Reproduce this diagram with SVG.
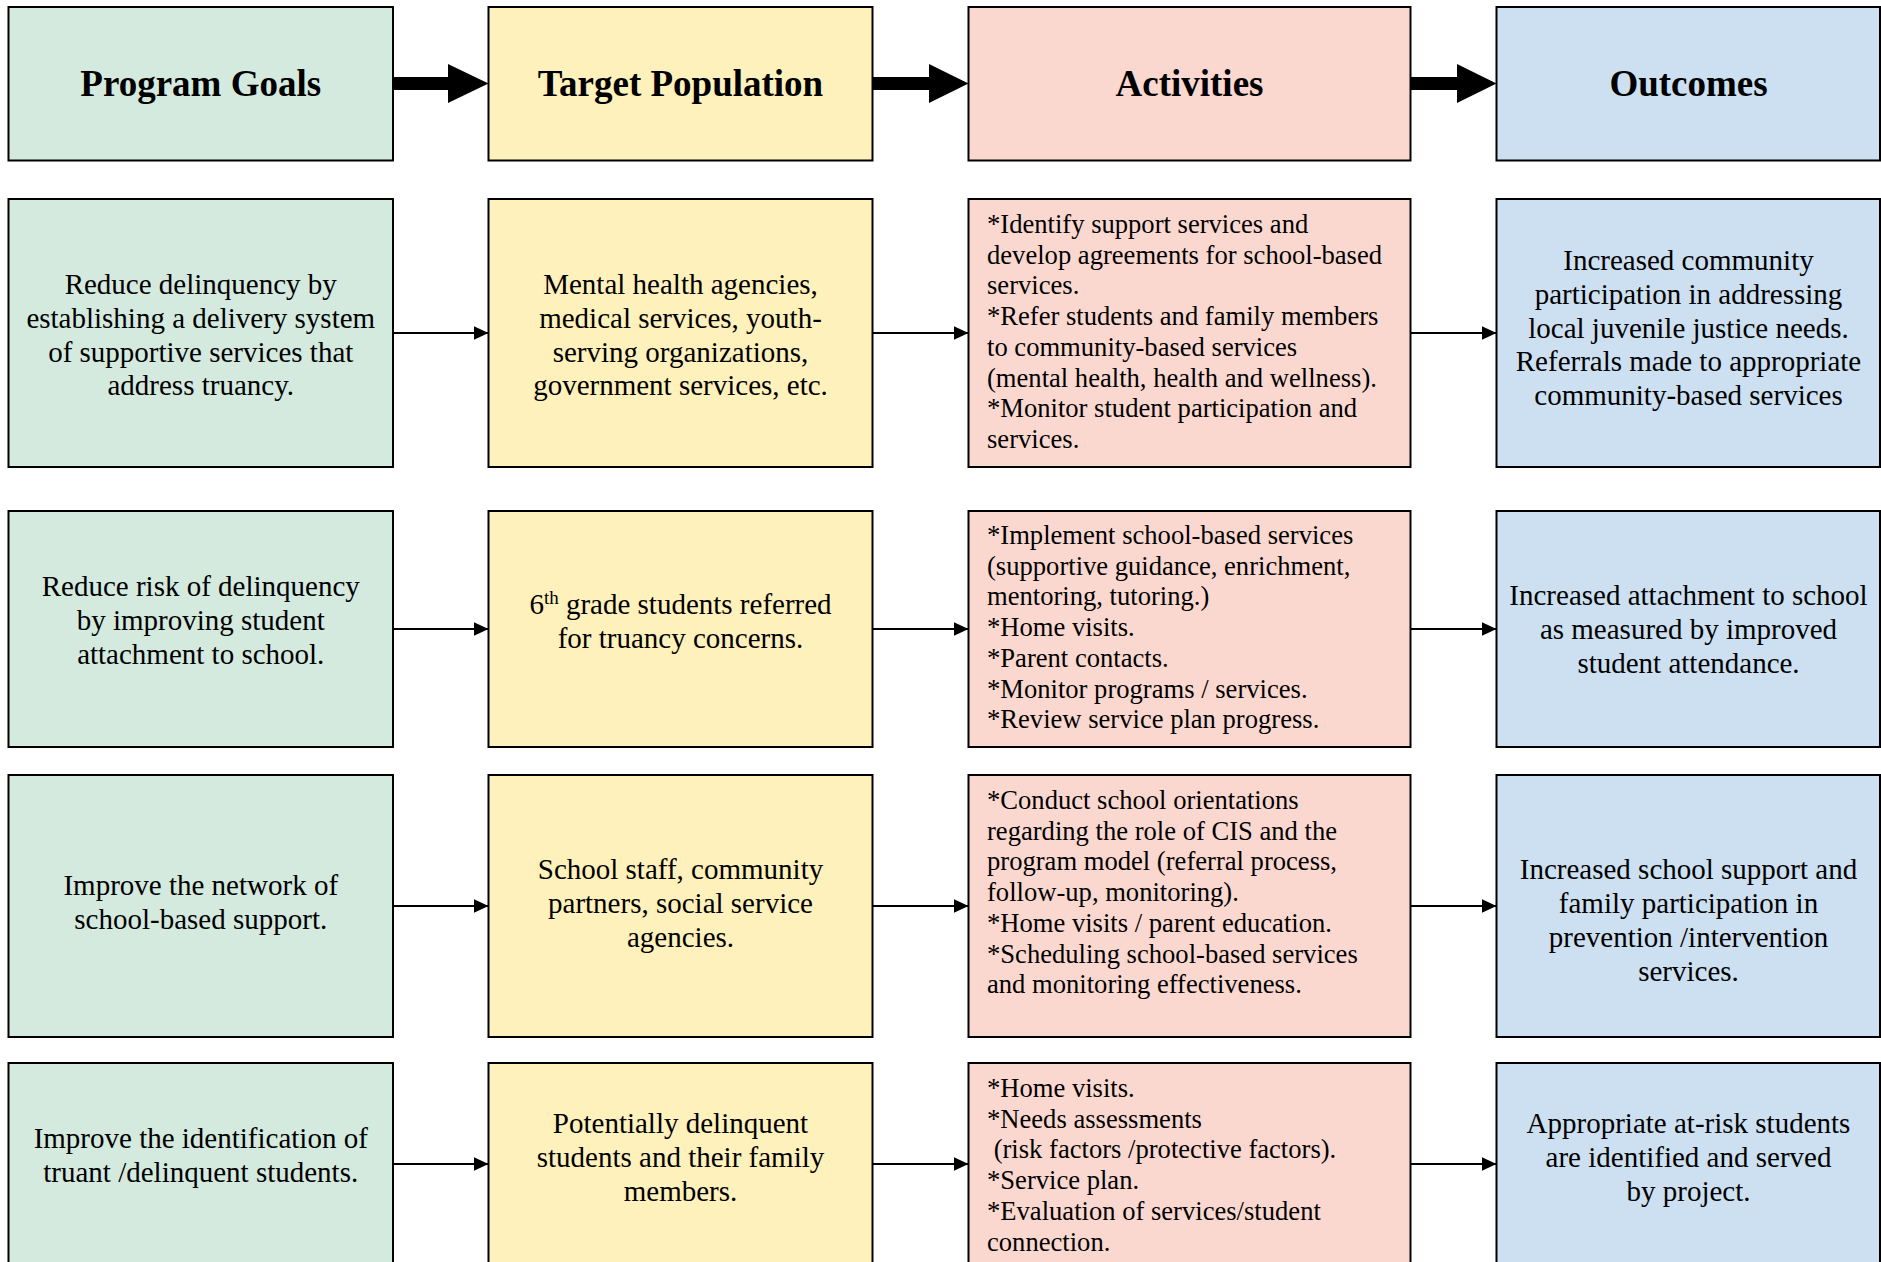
<svg xmlns="http://www.w3.org/2000/svg" width="1881" height="1262" viewBox="0 0 1881 1262">
<style>
.box{stroke:#000;stroke-width:2}
.c1{fill:#d4eadf}.c2{fill:#fff1bb}.c3{fill:#fbd8cf}.c4{fill:#cde0f1}
text{font-family:"Liberation Serif","Times New Roman",serif;fill:#000}
.hdr{font-size:37px;font-weight:bold;text-anchor:middle}
.mid{font-size:29px;text-anchor:middle}
.act{font-size:26.6px}
.conn{stroke:#000;stroke-width:2;fill:none}
.thick{fill:#000}
</style>
<defs>
<marker id="ah" markerUnits="userSpaceOnUse" markerWidth="15" markerHeight="14" viewBox="0 0 15 14" refX="15" refY="7" orient="auto">
<path d="M0,0 L15,7 L0,14 z" fill="#000"/>
</marker>
</defs>

<g id="hdr-goals"><rect class="box c1" x="8.5" y="7" width="384.5" height="153.5"/><text class="hdr" x="200.75" y="96">Program Goals</text></g>
<g id="hdr-target"><rect class="box c2" x="488.5" y="7" width="384" height="153.5"/><text class="hdr" x="680.5" y="96">Target Population</text></g>
<g id="hdr-activities"><rect class="box c3" x="968.5" y="7" width="442" height="153.5"/><text class="hdr" x="1189.5" y="96">Activities</text></g>
<g id="hdr-outcomes"><rect class="box c4" x="1496.5" y="7" width="383.5" height="153.5"/><text class="hdr" x="1688.5" y="96">Outcomes</text></g>

<g id="goal1"><rect class="box c1" x="8.5" y="199" width="384.5" height="268"/>
<text class="mid"><tspan x="200.75" y="294">Reduce delinquency by</tspan><tspan x="200.75" y="328">establishing a delivery system</tspan><tspan x="200.75" y="362">of supportive services that</tspan><tspan x="200.75" y="395">address truancy.</tspan></text></g>
<g id="target1"><rect class="box c2" x="488.5" y="199" width="384" height="268"/>
<text class="mid"><tspan x="680.5" y="294">Mental health agencies,</tspan><tspan x="680.5" y="328">medical services, youth-</tspan><tspan x="680.5" y="362">serving organizations,</tspan><tspan x="680.5" y="395">government services, etc.</tspan></text></g>
<g id="act1"><rect class="box c3" x="968.5" y="199" width="442" height="268"/>
<text class="act"><tspan x="987" y="233">*Identify support services and</tspan><tspan x="987" y="263.7">develop agreements for school-based</tspan><tspan x="987" y="294.4">services.</tspan><tspan x="987" y="325.1">*Refer students and family members</tspan><tspan x="987" y="355.8">to community-based services</tspan><tspan x="987" y="386.5">(mental health, health and wellness).</tspan><tspan x="987" y="417.2">*Monitor student participation and</tspan><tspan x="987" y="447.9">services.</tspan></text></g>
<g id="out1"><rect class="box c4" x="1496.5" y="199" width="383.5" height="268"/>
<text class="mid"><tspan x="1688.5" y="270">Increased community</tspan><tspan x="1688.5" y="304">participation in addressing</tspan><tspan x="1688.5" y="338">local juvenile justice needs.</tspan><tspan x="1688.5" y="371">Referrals made to appropriate</tspan><tspan x="1688.5" y="405">community-based services</tspan></text></g>

<g id="goal2"><rect class="box c1" x="8.5" y="511" width="384.5" height="236"/>
<text class="mid"><tspan x="200.75" y="596">Reduce risk of delinquency</tspan><tspan x="200.75" y="630">by improving student</tspan><tspan x="200.75" y="664">attachment to school.</tspan></text></g>
<g id="target2"><rect class="box c2" x="488.5" y="511" width="384" height="236"/>
<text class="mid"><tspan x="680.5" y="614">6<tspan font-size="19" baseline-shift="super">th</tspan> grade students referred</tspan><tspan x="680.5" y="648">for truancy concerns.</tspan></text></g>
<g id="act2"><rect class="box c3" x="968.5" y="511" width="442" height="236"/>
<text class="act"><tspan x="987" y="544">*Implement school-based services</tspan><tspan x="987" y="574.7">(supportive guidance, enrichment,</tspan><tspan x="987" y="605.4">mentoring, tutoring.)</tspan><tspan x="987" y="636.1">*Home visits.</tspan><tspan x="987" y="666.8">*Parent contacts.</tspan><tspan x="987" y="697.5">*Monitor programs / services.</tspan><tspan x="987" y="728.2">*Review service plan progress.</tspan></text></g>
<g id="out2"><rect class="box c4" x="1496.5" y="511" width="383.5" height="236"/>
<text class="mid"><tspan x="1688.5" y="605">Increased attachment to school</tspan><tspan x="1688.5" y="639">as measured by improved</tspan><tspan x="1688.5" y="673">student attendance.</tspan></text></g>

<g id="goal3"><rect class="box c1" x="8.5" y="775" width="384.5" height="262"/>
<text class="mid"><tspan x="200.75" y="895">Improve the network of</tspan><tspan x="200.75" y="929">school-based support.</tspan></text></g>
<g id="target3"><rect class="box c2" x="488.5" y="775" width="384" height="262"/>
<text class="mid"><tspan x="680.5" y="879">School staff, community</tspan><tspan x="680.5" y="913">partners, social service</tspan><tspan x="680.5" y="947">agencies.</tspan></text></g>
<g id="act3"><rect class="box c3" x="968.5" y="775" width="442" height="262"/>
<text class="act"><tspan x="987" y="809">*Conduct school orientations</tspan><tspan x="987" y="839.7">regarding the role of CIS and the</tspan><tspan x="987" y="870.4">program model (referral process,</tspan><tspan x="987" y="901.1">follow-up, monitoring).</tspan><tspan x="987" y="931.8">*Home visits / parent education.</tspan><tspan x="987" y="962.5">*Scheduling school-based services</tspan><tspan x="987" y="993.2">and monitoring effectiveness.</tspan></text></g>
<g id="out3"><rect class="box c4" x="1496.5" y="775" width="383.5" height="262"/>
<text class="mid"><tspan x="1688.5" y="879">Increased school support and</tspan><tspan x="1688.5" y="913">family participation in</tspan><tspan x="1688.5" y="947">prevention /intervention</tspan><tspan x="1688.5" y="981">services.</tspan></text></g>

<g id="goal4"><rect class="box c1" x="8.5" y="1063" width="384.5" height="202"/>
<text class="mid"><tspan x="200.75" y="1148">Improve the identification of</tspan><tspan x="200.75" y="1182">truant /delinquent students.</tspan></text></g>
<g id="target4"><rect class="box c2" x="488.5" y="1063" width="384" height="202"/>
<text class="mid"><tspan x="680.5" y="1133">Potentially delinquent</tspan><tspan x="680.5" y="1167">students and their family</tspan><tspan x="680.5" y="1201">members.</tspan></text></g>
<g id="act4"><rect class="box c3" x="968.5" y="1063" width="442" height="202"/>
<text class="act" xml:space="preserve"><tspan x="987" y="1097">*Home visits.</tspan><tspan x="987" y="1127.7">*Needs assessments</tspan><tspan x="987" y="1158.4"> (risk factors /protective factors).</tspan><tspan x="987" y="1189.1">*Service plan.</tspan><tspan x="987" y="1219.8">*Evaluation of services/student</tspan><tspan x="987" y="1250.5">connection.</tspan></text></g>
<g id="out4"><rect class="box c4" x="1496.5" y="1063" width="383.5" height="202"/>
<text class="mid"><tspan x="1688.5" y="1133">Appropriate at-risk students</tspan><tspan x="1688.5" y="1167">are identified and served</tspan><tspan x="1688.5" y="1201">by project.</tspan></text></g>

<g id="connectors">
<polygon class="thick" points="393,77 448,77 448,64 488.5,83.5 448,103 448,90 393,90"/>
<polygon class="thick" points="872.5,77 929,77 929,64 968.5,83.5 929,103 929,90 872.5,90"/>
<polygon class="thick" points="1410.5,77 1457,77 1457,64 1496.5,83.5 1457,103 1457,90 1410.5,90"/>
<line class="conn" x1="393" y1="333" x2="488.5" y2="333" marker-end="url(#ah)"/>
<line class="conn" x1="872.5" y1="333" x2="968.5" y2="333" marker-end="url(#ah)"/>
<line class="conn" x1="1410.5" y1="333" x2="1496.5" y2="333" marker-end="url(#ah)"/>
<line class="conn" x1="393" y1="629" x2="488.5" y2="629" marker-end="url(#ah)"/>
<line class="conn" x1="872.5" y1="629" x2="968.5" y2="629" marker-end="url(#ah)"/>
<line class="conn" x1="1410.5" y1="629" x2="1496.5" y2="629" marker-end="url(#ah)"/>
<line class="conn" x1="393" y1="906" x2="488.5" y2="906" marker-end="url(#ah)"/>
<line class="conn" x1="872.5" y1="906" x2="968.5" y2="906" marker-end="url(#ah)"/>
<line class="conn" x1="1410.5" y1="906" x2="1496.5" y2="906" marker-end="url(#ah)"/>
<line class="conn" x1="393" y1="1164" x2="488.5" y2="1164" marker-end="url(#ah)"/>
<line class="conn" x1="872.5" y1="1164" x2="968.5" y2="1164" marker-end="url(#ah)"/>
<line class="conn" x1="1410.5" y1="1164" x2="1496.5" y2="1164" marker-end="url(#ah)"/>
</g>
</svg>
